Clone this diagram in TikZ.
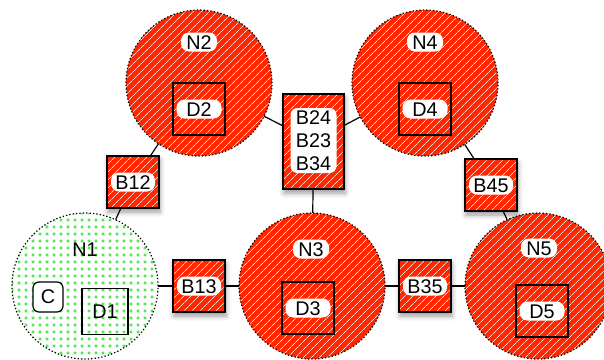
\documentclass[tikz,border=0pt]{standalone}
\usepackage{fontspec}
\setmainfont{Liberation Sans}
\usetikzlibrary{patterns.meta,shadows.blur}
\definecolor{nred}{RGB}{255,38,0}
\definecolor{ngreen}{RGB}{40,225,40}
\begin{document}
\begin{tikzpicture}[x=1pt,y=-1pt,
  font=\fontsize{19.8}{23}\selectfont,
  stripes/.style={fill=nred, postaction={pattern={Lines[angle=45,distance=5.4pt,line width=0.75pt]}, pattern color=white!85!nred}},
  dotborder/.style={postaction={draw=black, line width=1.2pt, dash pattern=on 1.3pt off 2.1pt}},
  netcircle/.style={circle, minimum size=146pt, inner sep=0pt, stripes, dotborder},
  greencircle/.style={circle, minimum size=146pt, inner sep=0pt, fill=white,
    postaction={pattern={Dots[distance=6.5pt,radius=2.2pt]}, pattern color=ngreen!25},
    postaction={pattern={Dots[distance=6.5pt,radius=1.2pt]}, pattern color=ngreen},
    dotborder},
  bridge/.style={rectangle, minimum size=52pt, inner sep=0pt,
    blur shadow={shadow xshift=1pt, shadow yshift=-4pt, shadow blur radius=5pt, shadow opacity=40},
    stripes, postaction={draw=black, line width=1.4pt}},
  dbox/.style={rectangle, minimum size=52pt, inner sep=0pt, draw=black, line width=1.3pt},
  pill/.style={fill=white, rounded corners=8pt, inner xsep=0pt, inner ysep=2.4pt, text height=14.2pt, text depth=0pt},
  npill/.style={pill, minimum width=36pt},
  dpill/.style={pill, minimum width=45pt},
  bpill/.style={pill, minimum width=44pt},
  plainlabel/.style={inner sep=0pt, text height=14.2pt, text depth=0pt},
  link/.style={draw=black, line width=1.2pt}
]
\useasboundingbox (0,0) rectangle (604,359);
\clip (0,0) rectangle (604,359);

% networks
\node[greencircle] (N1) at (85,286) {};
\node[netcircle] (N2) at (199,83) {};
\node[netcircle] (N3) at (312,286) {};
\node[netcircle] (N4) at (425,83) {};
\node[netcircle] (N5) at (538,286) {};

% bridges
\node[bridge] (B12) at (133,182) {};
\node[bridge] (B13) at (199,286) {};
\node[bridge] (B35) at (425,286) {};
\node[bridge] (B45) at (491,185) {};
\node[bridge, minimum width=61pt, minimum height=95pt] (B24) at (313.5,141.5) {};

% connectors
\draw[link] (N1) -- (B12);
\draw[link] (B12) -- (N2);
\draw[link] (N2) -- (B24);
\draw[link] (B24) -- (N4);
\draw[link] (B24) -- (N3);
\draw[link] (N1) -- (B13);
\draw[link] (B13) -- (N3);
\draw[link] (N3) -- (B35);
\draw[link] (B35) -- (N5);
\draw[link] (N4) -- (B45);
\draw[link] (B45) -- (N5);

% devices
\node[dbox, minimum size=46pt] (D1) at (105,311.5) {};
\node[dbox] (D2) at (199,109) {};
\node[dbox] (D3) at (308,308) {};
\node[dbox] (D4) at (425,109) {};
\node[dbox] (D5) at (542,311) {};
\node[draw=black, fill=white, line width=1.2pt, rounded corners=6pt, minimum size=30pt, inner sep=0pt] (C) at (48,297) {C};

% labels
\node[plainlabel] (LN1) at (85,249) {N1};
\node[npill] (LN2) at (199,42) {N2};
\node[npill] (LN3) at (311,249) {N3};
\node[npill] (LN4) at (425,42) {N4};
\node[npill] (LN5) at (539,248) {N5};
\node[plainlabel] (LD1) at (D1) {D1};
\node[dpill] (LD2) at (D2) {D2};
\node[dpill] (LD3) at (D3) {D3};
\node[dpill] (LD4) at (D4) {D4};
\node[dpill] (LD5) at (D5) {D5};
\node[bpill] (LB12) at (B12) {B12};
\node[bpill] (LB13) at (B13) {B13};
\node[bpill] (LB35) at (B35) {B35};
\node[bpill] (LB45) at (B45) {B45};
\node[fill=white, rounded corners=7pt, minimum width=46pt, minimum height=65pt, inner sep=0pt, align=center] (LB24) at (313.5,140.5) {B24\\B23\\B34};
\end{tikzpicture}
\end{document}
